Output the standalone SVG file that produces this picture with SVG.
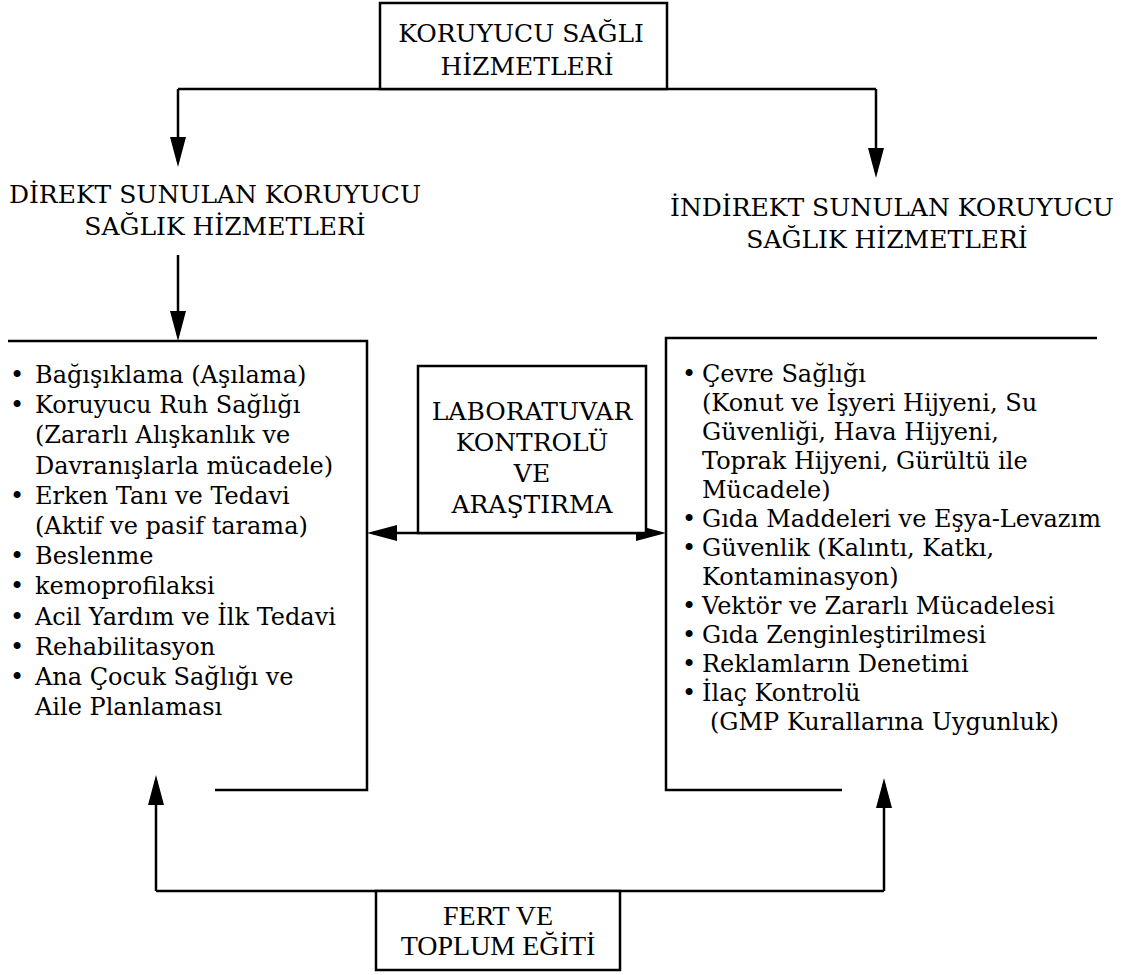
<svg xmlns="http://www.w3.org/2000/svg" width="1127" height="975" viewBox="0 0 1127 975">
<style>
  .hd { font-family: "DejaVu Serif", "Liberation Serif", serif; font-size: 25px; fill: #000; }
  .bd { font-family: "DejaVu Serif", "Liberation Serif", serif; font-size: 24px; fill: #000; }
  .tm { font-family: "Liberation Serif", "Times New Roman", serif; font-size: 28px; fill: #000; }
  .mid { text-anchor: middle; }
  .ln { fill: none; stroke: #000; stroke-width: 2.5; }
  .bx { fill: #fff; stroke: #000; stroke-width: 2.5; }
</style>
<defs>
  <marker id="ah" markerUnits="userSpaceOnUse" markerWidth="30" markerHeight="16" refX="24" refY="8" orient="auto-start-reverse">
    <path d="M0,0 L30,8 L0,16 z" fill="#000"/>
  </marker>
</defs>
<rect width="1127" height="975" fill="#fff"/>

<g id="connectors">
  <path class="ln" d="M178,89 H876"/>
  <path class="ln" d="M178,89 V161" marker-end="url(#ah)"/>
  <path class="ln" d="M876,89 V172" marker-end="url(#ah)"/>
  <path class="ln" d="M178,255 V335" marker-end="url(#ah)"/>
  <path class="ln" d="M373,533 H660" marker-start="url(#ah)" marker-end="url(#ah)"/>
  <path class="ln" d="M156,891 H884"/>
  <path class="ln" d="M156,891 V781" marker-end="url(#ah)"/>
  <path class="ln" d="M884,891 V784" marker-end="url(#ah)"/>
</g>

<g id="node-koruyucu">
  <rect class="bx" x="380" y="3" width="287" height="86"/>
  <text class="hd mid"><tspan x="521" y="42">KORUYUCU SAĞLI</tspan><tspan x="527" y="75">HİZMETLERİ</tspan></text>
</g>

<g id="node-direkt">
  <text class="hd mid"><tspan x="215" y="203">DİREKT SUNULAN KORUYUCU</tspan><tspan x="225" y="235">SAĞLIK HİZMETLERİ</tspan></text>
</g>

<g id="node-indirekt">
  <text class="hd mid"><tspan x="892" y="216">İNDİREKT SUNULAN KORUYUCU</tspan><tspan x="887" y="248">SAĞLIK HİZMETLERİ</tspan></text>
</g>

<g id="node-left-list">
  <path class="ln" d="M8,341 H367 V790 H215"/>
  <text class="bd">
    <tspan x="10" y="383">•</tspan><tspan x="35" y="383">Bağışıklama (Aşılama)</tspan>
    <tspan x="10" y="413">•</tspan><tspan x="35" y="413">Koruyucu Ruh Sağlığı</tspan>
    <tspan x="35" y="443">(Zararlı Alışkanlık ve</tspan>
    <tspan x="35" y="474">Davranışlarla mücadele)</tspan>
    <tspan x="10" y="504">•</tspan><tspan x="35" y="504">Erken Tanı ve Tedavi</tspan>
    <tspan x="35" y="534">(Aktif ve pasif tarama)</tspan>
    <tspan x="10" y="564">•</tspan><tspan x="35" y="564">Beslenme</tspan>
    <tspan x="10" y="594">•</tspan><tspan x="35" y="594">kemoprofilaksi</tspan>
    <tspan x="10" y="625">•</tspan><tspan x="35" y="625">Acil Yardım ve İlk Tedavi</tspan>
    <tspan x="10" y="655">•</tspan><tspan x="35" y="655">Rehabilitasyon</tspan>
    <tspan x="10" y="685">•</tspan><tspan x="35" y="685">Ana Çocuk Sağlığı ve</tspan>
    <tspan x="35" y="715">Aile Planlaması</tspan>
  </text>
</g>

<g id="node-lab">
  <rect class="bx" x="418" y="366" width="228" height="167"/>
  <text class="hd mid"><tspan x="532" y="420">LABORATUVAR</tspan><tspan x="532" y="451">KONTROLÜ</tspan><tspan x="532" y="482">VE</tspan><tspan x="532" y="513">ARAŞTIRMA</tspan></text>
</g>

<g id="node-right-list">
  <path class="ln" d="M1097,338 H666 V790 H842"/>
  <text class="bd">
    <tspan x="682" y="382">•</tspan><tspan x="702" y="382">Çevre Sağlığı</tspan>
    <tspan x="702" y="411">(Konut ve İşyeri Hijyeni, Su</tspan>
    <tspan x="702" y="440">Güvenliği, Hava Hijyeni,</tspan>
    <tspan x="702" y="469">Toprak Hijyeni, Gürültü ile</tspan>
    <tspan x="702" y="498">Mücadele)</tspan>
    <tspan x="682" y="527">•</tspan><tspan x="702" y="527">Gıda Maddeleri ve Eşya-Levazım</tspan>
    <tspan x="682" y="556">•</tspan><tspan x="702" y="556">Güvenlik (Kalıntı, Katkı,</tspan>
    <tspan x="702" y="585">Kontaminasyon)</tspan>
    <tspan x="682" y="614">•</tspan><tspan x="702" y="614">Vektör ve Zararlı Mücadelesi</tspan>
    <tspan x="682" y="643">•</tspan><tspan x="702" y="643">Gıda Zenginleştirilmesi</tspan>
    <tspan x="682" y="672">•</tspan><tspan x="702" y="672">Reklamların Denetimi</tspan>
    <tspan x="682" y="701">•</tspan><tspan x="702" y="701">İlaç Kontrolü</tspan>
    <tspan x="710" y="730">(GMP Kurallarına Uygunluk)</tspan>
  </text>
</g>

<g id="node-fert">
  <rect class="bx" x="376" y="891" width="244" height="79"/>
  <text class="tm mid"><tspan x="498" y="925">FERT VE</tspan><tspan x="498" y="955">TOPLUM EĞİTİ</tspan></text>
</g>
</svg>
